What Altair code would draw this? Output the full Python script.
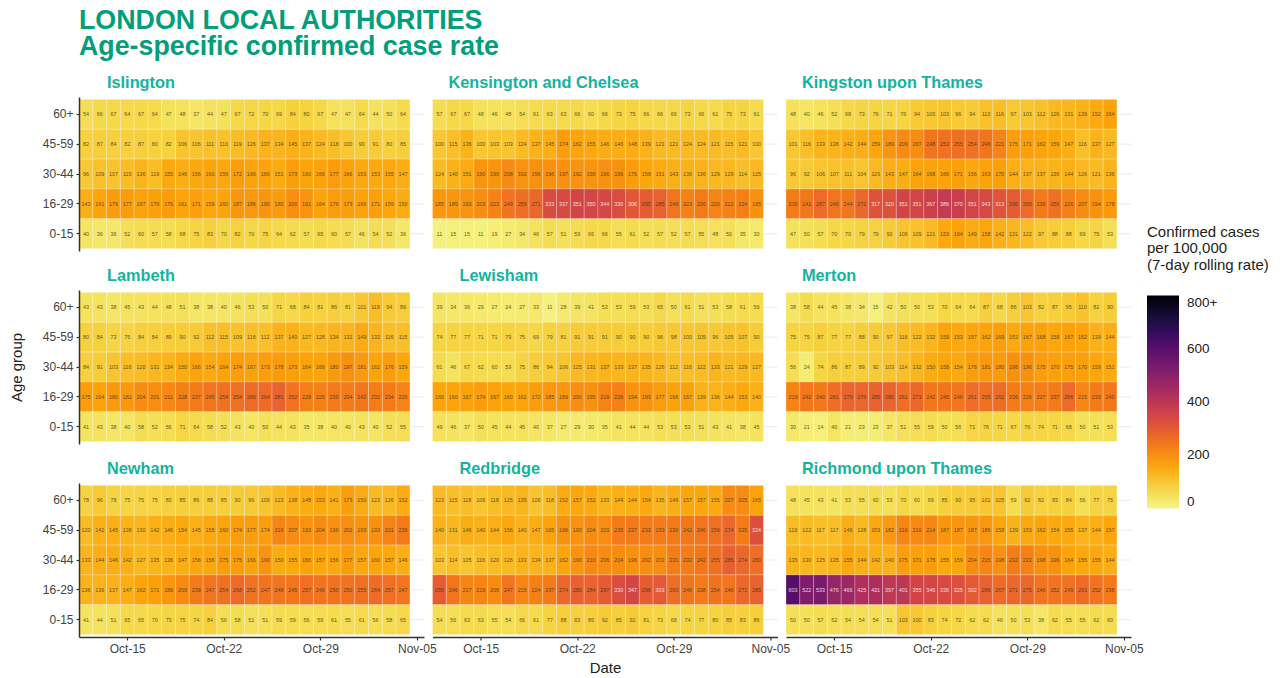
import altair as alt
import pandas as pd

AGE_GROUPS = ["60+", "45-59", "30-44", "16-29", "0-15"]
DATES = [d.strftime("%Y-%m-%d") for d in pd.date_range("2020-10-12", "2020-11-04")]
TICK_DATES = ["2020-10-15", "2020-10-22", "2020-10-29", "2020-11-05"]

islington = [
    [54, 66, 67, 64, 67, 64, 47, 48, 37, 44, 47, 67, 72, 70, 69, 84, 80, 67, 47, 47, 64, 44, 50, 64],
    [82, 87, 84, 82, 87, 80, 82, 106, 106, 111, 110, 119, 126, 137, 134, 145, 137, 124, 118, 100, 90, 91, 80, 85],
    [96, 109, 107, 119, 136, 119, 155, 146, 156, 160, 156, 172, 166, 166, 151, 173, 160, 166, 177, 166, 153, 153, 155, 147],
    [143, 161, 176, 177, 167, 170, 176, 161, 171, 159, 160, 187, 186, 190, 180, 200, 191, 164, 176, 173, 166, 171, 159, 150],
    [40, 36, 36, 52, 60, 57, 58, 68, 75, 83, 70, 82, 70, 75, 64, 62, 57, 65, 60, 57, 46, 54, 52, 36],
]
kensington = [
    [57, 67, 67, 48, 46, 48, 54, 61, 63, 63, 66, 60, 66, 73, 75, 66, 66, 66, 73, 66, 61, 75, 73, 61],
    [100, 115, 136, 100, 103, 103, 124, 137, 145, 174, 162, 155, 146, 146, 148, 139, 121, 121, 124, 124, 121, 115, 121, 100],
    [124, 140, 151, 190, 190, 208, 192, 196, 196, 197, 192, 190, 196, 196, 176, 159, 151, 143, 136, 136, 129, 129, 114, 125],
    [185, 189, 193, 203, 223, 249, 259, 271, 333, 337, 351, 350, 344, 330, 306, 295, 285, 246, 223, 236, 220, 222, 224, 195],
    [11, 15, 15, 11, 19, 27, 34, 46, 57, 51, 59, 66, 66, 55, 61, 52, 57, 52, 57, 55, 48, 50, 35, 30],
]
kingston = [
    [48, 40, 46, 52, 68, 73, 76, 71, 76, 94, 100, 103, 96, 94, 113, 116, 97, 103, 112, 126, 131, 139, 152, 164],
    [101, 116, 133, 136, 142, 144, 159, 189, 209, 207, 248, 253, 255, 254, 246, 221, 175, 171, 162, 159, 147, 116, 137, 127],
    [96, 92, 106, 107, 111, 104, 123, 143, 147, 164, 168, 166, 171, 156, 163, 170, 144, 137, 137, 136, 144, 126, 121, 136],
    [235, 241, 267, 246, 244, 272, 317, 320, 351, 351, 367, 386, 370, 351, 343, 313, 296, 265, 236, 256, 226, 207, 194, 178],
    [47, 50, 57, 70, 70, 79, 79, 90, 106, 109, 121, 153, 164, 149, 158, 142, 131, 122, 97, 88, 88, 69, 75, 53],
]
lambeth = [
    [43, 43, 38, 45, 43, 44, 48, 51, 38, 38, 40, 46, 53, 50, 71, 68, 84, 81, 86, 81, 101, 119, 94, 89],
    [80, 84, 73, 75, 84, 84, 89, 90, 92, 112, 115, 109, 116, 112, 137, 140, 127, 128, 134, 132, 149, 132, 116, 115],
    [84, 91, 103, 116, 120, 131, 134, 150, 166, 154, 164, 174, 167, 173, 178, 173, 164, 166, 180, 197, 181, 162, 176, 159],
    [175, 164, 180, 182, 204, 201, 211, 228, 237, 245, 254, 254, 266, 264, 281, 252, 228, 225, 239, 234, 242, 232, 234, 220],
    [41, 43, 38, 40, 58, 52, 56, 71, 64, 58, 52, 43, 40, 50, 44, 43, 35, 38, 40, 40, 43, 40, 52, 55],
]
lewisham = [
    [39, 34, 36, 29, 27, 24, 27, 33, 11, 28, 39, 41, 53, 53, 59, 53, 65, 50, 61, 51, 53, 58, 61, 59],
    [74, 77, 77, 71, 71, 79, 75, 69, 79, 81, 91, 91, 91, 90, 90, 90, 96, 98, 100, 105, 96, 105, 107, 90],
    [61, 46, 67, 62, 60, 59, 75, 86, 94, 106, 125, 131, 137, 133, 137, 135, 126, 112, 116, 122, 133, 121, 129, 127],
    [160, 160, 167, 174, 167, 160, 162, 172, 185, 189, 200, 195, 219, 226, 194, 193, 177, 166, 167, 139, 136, 144, 153, 140],
    [49, 46, 37, 50, 45, 44, 45, 40, 37, 27, 29, 30, 35, 41, 44, 44, 53, 53, 53, 51, 43, 41, 38, 45],
]
merton = [
    [38, 58, 44, 45, 38, 34, 15, 42, 50, 50, 53, 70, 64, 64, 87, 68, 86, 103, 82, 87, 95, 110, 82, 90],
    [75, 75, 87, 77, 77, 88, 90, 97, 116, 122, 132, 159, 153, 157, 162, 169, 153, 167, 168, 158, 167, 162, 139, 144],
    [56, 24, 74, 86, 87, 89, 92, 103, 114, 132, 150, 158, 154, 176, 181, 180, 196, 196, 175, 170, 175, 170, 159, 151],
    [219, 242, 240, 261, 279, 276, 285, 280, 261, 273, 242, 245, 246, 261, 255, 262, 236, 226, 227, 237, 266, 215, 233, 240],
    [30, 21, 14, 40, 21, 23, 23, 37, 51, 55, 59, 50, 56, 71, 76, 71, 67, 76, 74, 71, 68, 50, 51, 53],
]
newham = [
    [78, 96, 78, 75, 75, 75, 83, 85, 86, 88, 85, 90, 96, 106, 123, 138, 148, 153, 141, 173, 150, 123, 126, 152],
    [120, 142, 145, 136, 130, 142, 146, 154, 145, 155, 160, 174, 177, 174, 216, 207, 193, 204, 196, 202, 193, 193, 221, 236],
    [133, 144, 146, 142, 127, 135, 136, 147, 156, 156, 175, 175, 166, 190, 150, 155, 166, 157, 156, 177, 157, 160, 157, 146],
    [136, 136, 137, 147, 162, 171, 189, 209, 239, 247, 254, 268, 252, 247, 248, 245, 257, 246, 250, 250, 255, 264, 257, 247],
    [41, 44, 51, 65, 65, 70, 73, 75, 74, 84, 56, 58, 51, 51, 59, 59, 56, 59, 61, 55, 61, 56, 58, 65],
]
redbridge = [
    [123, 115, 118, 106, 118, 125, 135, 106, 118, 152, 157, 152, 133, 144, 144, 154, 135, 146, 157, 157, 155, 207, 205, 165],
    [140, 131, 146, 140, 144, 156, 140, 147, 165, 196, 193, 204, 203, 235, 237, 233, 233, 236, 242, 246, 256, 274, 235, 324],
    [103, 114, 105, 116, 120, 126, 133, 134, 137, 162, 190, 210, 206, 204, 196, 202, 202, 231, 232, 242, 255, 285, 274, 260],
    [295, 246, 217, 216, 206, 247, 215, 224, 237, 274, 285, 284, 297, 330, 347, 296, 303, 260, 246, 238, 254, 246, 271, 285],
    [54, 56, 63, 63, 55, 54, 66, 61, 77, 88, 83, 86, 92, 85, 92, 81, 73, 68, 74, 77, 80, 85, 83, 86],
]
richmond = [
    [48, 45, 43, 41, 53, 55, 60, 53, 70, 60, 69, 85, 90, 95, 101, 105, 59, 92, 82, 83, 84, 56, 77, 75],
    [119, 122, 117, 117, 146, 128, 153, 182, 216, 210, 214, 187, 187, 187, 186, 158, 139, 153, 162, 154, 155, 137, 144, 157],
    [135, 130, 125, 135, 155, 144, 142, 140, 175, 171, 175, 155, 159, 204, 215, 198, 232, 222, 198, 196, 164, 155, 155, 144],
    [603, 522, 533, 476, 466, 425, 431, 397, 401, 355, 346, 336, 325, 302, 286, 267, 271, 275, 246, 252, 249, 263, 252, 236],
    [50, 50, 57, 52, 54, 54, 54, 51, 103, 100, 83, 74, 72, 62, 62, 46, 50, 53, 38, 62, 55, 55, 62, 60],
]

BOROUGHS = [
    ("Islington", islington, 28),
    ("Kensington and Chelsea", kensington, 16),
    ("Kingston upon Thames", kingston, 16),
    ("Lambeth", lambeth, 28),
    ("Lewisham", lewisham, 27),
    ("Merton", merton, 16),
    ("Newham", newham, 28),
    ("Redbridge", redbridge, 27),
    ("Richmond upon Thames", richmond, 16),
]

COLOR_STOPS = [0, 70, 160, 240, 320, 400, 480, 560, 640, 720, 800]
COLOR_RANGE = ["#f6f688", "#f6d746", "#fca50a", "#f37819", "#dd513a", "#bc3754",
               "#932667", "#6a176e", "#420a68", "#160b39", "#000004"]

FONT = "Liberation Sans"
TITLE_GREEN = "#009E7A"
PANEL_TEAL = "#12B3A0"
AXIS_DARK = "#333333"
LABEL_GREY = "#444444"

x_min = int(pd.Timestamp("2020-10-11T12:00:00Z").timestamp() * 1000)
x_max = int(pd.Timestamp("2020-11-05T12:30:00Z").timestamp() * 1000)
tick_ms = [int(pd.Timestamp(d + "T00:00:00Z").timestamp() * 1000) for d in TICK_DATES]


def frame(rows):
    records = []
    for age, vals in zip(AGE_GROUPS, rows):
        for d, v in zip(DATES, vals):
            ts = pd.Timestamp(d + "T00:00:00Z")
            records.append({
                "age": age,
                "date": ts.isoformat(),
                "start": (ts - pd.Timedelta(hours=12)).isoformat(),
                "end": (ts + pd.Timedelta(hours=12)).isoformat(),
                "value": v,
            })
    return pd.DataFrame(records)


def panel(i, name, rows, dx):
    col, row = i % 3, i // 3
    left, bottom = col == 0, row == 2
    x_axis = alt.Axis(
        values=tick_ms, format="%b-%d", grid=False, labelFontSize=12, labelColor=LABEL_GREY,
        tickColor=AXIS_DARK, domainColor=AXIS_DARK, domainWidth=1.5, tickSize=3, tickWidth=1.2,
        labelPadding=3, labelFlush=False, labelOverlap=False, zindex=1,
        title="Date" if i == 7 else None, titleFontSize=15, titleFontWeight="normal",
        titleColor="#222222", titlePadding=6,
    ) if bottom else None
    y_axis = alt.Axis(
        grid=False, zindex=1,
        labels=left, ticks=left, domain=left, labelFontSize=12, labelColor=LABEL_GREY,
        tickColor=AXIS_DARK, domainColor=AXIS_DARK, domainWidth=1.5, tickSize=3, tickWidth=1.2,
        labelPadding=3, title="Age group" if i == 3 else None, titleFontSize=15,
        titleFontWeight="normal", titleColor="#222222", titlePadding=18,
    )
    x_scale = alt.Scale(type="utc", domain=[x_min, x_max], nice=False)
    x = alt.X("start:T", axis=x_axis, scale=x_scale)
    y = alt.Y("age:N", sort=AGE_GROUPS, axis=y_axis,
              scale=alt.Scale(domain=AGE_GROUPS, paddingInner=0, paddingOuter=0.08))
    color = alt.Color(
        "value:Q",
        scale=alt.Scale(domain=COLOR_STOPS, range=COLOR_RANGE, clamp=True),
        legend=alt.Legend(
            orient="none", legendX=1068, legendY=127.5,
            title=["Confirmed cases", "\u00a0per 100,000", "\u00a0(7-day rolling rate)"],
            titleFontSize=15, titleFontWeight="normal", titleColor="#222222", titleLimit=200,
            titleLineHeight=16.5, titlePadding=23,
            gradientLength=213, gradientThickness=32, values=[0, 200, 400, 600, 800],
            labelExpr="datum.value == 800 ? '800+' : datum.label", labelFontSize=13.5,
            labelColor="#222222", labelOffset=8, gradientStrokeWidth=0,
        ),
    )
    data = frame(rows)
    grid = alt.Chart(pd.DataFrame({"age": AGE_GROUPS})).mark_rule(color="#ebebeb", strokeWidth=1).encode(y=y)
    tiles = alt.Chart(data).mark_rect(stroke="white", strokeWidth=0.6, strokeOpacity=0.4).encode(
        x=x, x2="end:T", y=y, color=color
    )
    labels = alt.Chart(data).mark_text(fontSize=5.4, font=FONT, opacity=0.8).encode(
        x=alt.X("date:T", axis=x_axis, scale=x_scale),
        y=y,
        text="value:Q",
        color=alt.condition("datum.value >= 300", alt.value("#ffffff"), alt.value("#3a3a1a")),
    )
    return (grid + tiles + labels).properties(
        width=345, height=154,
        title=alt.TitleParams(name, anchor="start", frame="group", dx=dx, fontSize=16.3,
                              fontWeight="bold", color=PANEL_TEAL, offset=6),
    )


panels = [panel(i, n, r, dx) for i, (n, r, dx) in enumerate(BOROUGHS)]

chart = alt.concat(*panels, columns=3, spacing={"row": 39, "column": 8.5}, bounds="flush").properties(
    title=alt.TitleParams(
        ["LONDON LOCAL AUTHORITIES", "Age-specific confirmed case rate"],
        anchor="start", frame="group", fontSize=26.8, lineHeight=26, fontWeight="bold",
        color=TITLE_GREEN, offset=13.5,
    ),
    padding={"left": 1, "top": 0, "right": 5, "bottom": 0},
    background="white",
).configure(font=FONT).configure_view(strokeWidth=0, stroke="transparent")

chart.save("out.html", embed_options={"renderer": "svg", "actions": False})
